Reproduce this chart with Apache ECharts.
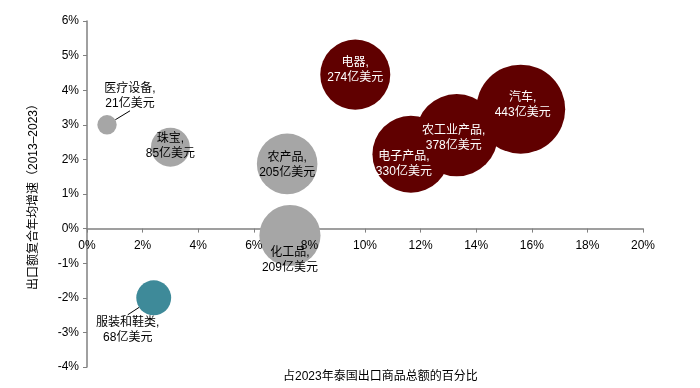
<!DOCTYPE html>
<html><head><meta charset="utf-8">
<script src="https://cdn.jsdelivr.net/npm/echarts@6/dist/echarts.min.js"></script>
<style>html,body{margin:0;padding:0;background:#fff}#c{width:700px;height:388px}</style>
</head><body><div id="c"></div>
<script>
var names = ['医疗设备','珠宝','农产品','化工品','服装和鞋类','电器','电子产品','农工业产品','汽车'];
var share = [0.72, 3.0, 7.2, 7.3, 2.4, 9.65, 11.65, 13.3, 15.6];
var growth = [3.0, 2.35, 1.87, -0.2, -2.0, 4.45, 2.15, 2.7, 3.45];
var exportValue = [21, 85, 205, 209, 68, 274, 330, 378, 443];
var groups = ['gray','gray','gray','gray','teal','red','red','red','red'];
var xTicks = [0,2,4,6,8,10,12,14,16,18,20];
var yTicks = [-4,-3,-2,-1,0,1,2,3,4,5,6];

var colors = {gray:'#a6a6a6', teal:'#3e8a99', red:'#600000'};
var textColors = {gray:'#000000', teal:'#000000', red:'#ffffff'};
var labelShift = [[23,-29],[0,-1],[0,1],[0,25],[-26,32],[0,-4],[-7,10],[-3,3],[2,-4]];
var withLine = [true,false,false,false,true,false,false,false,false];
var FONT = '"Liberation Sans", Arial, "Noto Sans CJK SC", sans-serif';

var data = names.map(function(n,i){
  return {
    name: n,
    value: [share[i], growth[i], exportValue[i]],
    itemStyle: {color: colors[groups[i]], opacity: 1},
    label: {color: textColors[groups[i]]},
    labelLine: {show: withLine[i], lineStyle:{color:'#000', width:1}}
  };
});

var chartH = 388, gridTop = 21, gridBottom = 21;
var yMin = yTicks[0], yMax = yTicks[yTicks.length-1];
var xMin = xTicks[0], xMax = xTicks[xTicks.length-1];
var plotH = chartH - gridTop - gridBottom;
// move the x axis up from the bottom of the grid to the y = 0 line
var zeroOffset = -((0 - yMin) / (yMax - yMin)) * plotH;
function pct(v){ return v + '%'; }

var chart = echarts.init(document.getElementById('c'), null, {renderer:'canvas'});
chart.setOption({
  animation: false,
  textStyle: {fontFamily: FONT},
  grid: {left: 87, right: 57, top: gridTop, bottom: gridBottom},
  xAxis: [{
    type: 'value', min: xMin, max: xMax, interval: 2,
    position: 'bottom', offset: zeroOffset, z: 0,
    axisLine: {show: true, onZero: false, lineStyle: {color: '#808080', width: 1.5}},
    axisTick: {show: true, inside: false, length: 4, lineStyle: {color: '#808080'}},
    axisLabel: {show: false},
    splitLine: {show: false}
  }, {
    // tick labels only, drawn above the bubbles
    type: 'value', min: xMin, max: xMax, interval: 2,
    position: 'bottom', offset: zeroOffset, z: 5,
    axisLine: {show: false, onZero: false},
    axisTick: {show: false, length: 4},
    axisLabel: {color: '#000', fontSize: 12, margin: 11, fontFamily: FONT, formatter: pct},
    splitLine: {show: false}
  }],
  yAxis: {
    type: 'value', min: yMin, max: yMax, interval: 1,
    name: '出口额复合年均增速（2013–2023）',
    nameLocation: 'middle', nameGap: 47,
    nameTextStyle: {color: '#000', fontSize: 12, fontFamily: FONT},
    axisLine: {show: true, onZero: false, lineStyle: {color: '#808080', width: 1.5}},
    axisTick: {show: true, length: 4, lineStyle: {color: '#808080'}},
    axisLabel: {color: '#000', fontSize: 12, margin: 8, fontFamily: FONT, formatter: pct},
    splitLine: {show: false}
  },
  graphic: [{
    type: 'text', left: 380 - 97, top: 371,
    style: {text: '占2023年泰国出口商品总额的百分比', fill: '#000', font: '12px ' + FONT}
  }],
  series: [{
    type: 'scatter',
    xAxisIndex: 0,
    data: data,
    symbolSize: function(v){ return 4.23 * Math.sqrt(v[2]); },
    label: {
      show: true, position: 'inside', fontSize: 12, lineHeight: 15, fontFamily: FONT,
      formatter: function(p){ return p.name + ',\n' + p.value[2] + '亿美元'; }
    },
    labelLayout: function(p){
      var s = labelShift[p.dataIndex];
      return {dx: s[0], dy: s[1]};
    },
    labelLine: {show: false}
  }]
});
</script></body></html>
